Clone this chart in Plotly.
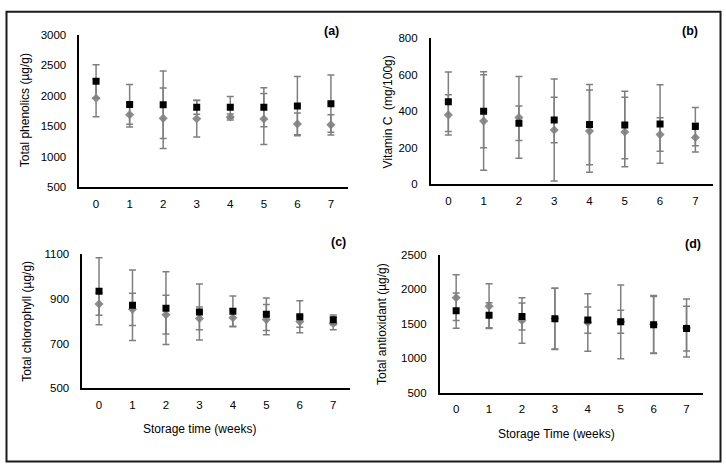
import plotly.graph_objects as go

W, H = 726, 474

weeks = ["0", "1", "2", "3", "4", "5", "6", "7"]

# (a) Total phenolics
phen_sq = [2235, 1855, 1850, 1807, 1807, 1807, 1828, 1866]
phen_sq_err = [270, 325, 554, 115, 176, 320, 486, 470]
phen_dm = [1956, 1684, 1626, 1620, 1647, 1615, 1535, 1519]
phen_dm_err = [305, 200, 496, 300, 50, 420, 180, 165]

# (b) Vitamin C
vitc_sq = [453, 401, 335, 353, 328, 326, 331, 317]
vitc_sq_err = [163, 200, 95, 125, 220, 185, 215, 105]
vitc_dm = [381, 347, 367, 298, 292, 287, 273, 257]
vitc_dm_err = [110, 270, 224, 280, 225, 190, 92, 80]

# (c) Total chlorophyll
chl_sq = [934, 871, 858, 841, 845, 831, 820, 806]
chl_sq_err = [150, 158, 163, 126, 68, 73, 72, 22]
chl_dm = [877, 853, 829, 812, 815, 807, 798, 790]
chl_dm_err = [50, 72, 87, 51, 40, 68, 25, 28]

# (d) Total antioxidant
anti_sq = [1691, 1625, 1606, 1573, 1555, 1531, 1488, 1432]
anti_sq_err = [255, 180, 195, 445, 190, 165, 410, 325]
anti_dm = [1880, 1757, 1549, 1578, 1520, 1530, 1490, 1440]
anti_dm_err = [330, 325, 330, 440, 415, 535, 420, 420]

panels = [
    dict(sq=phen_sq, sqe=phen_sq_err, dm=phen_dm, dme=phen_dm_err,
         px=(79.3, 347.7), py=(29.3, 185.7), yr=(500, 3000), dt=500,
         ytitle="Total phenolics (µg/g)", ytx=24.5, xtitle=None, label="(a)", lab=(331.7, 26)),
    dict(sq=vitc_sq, sqe=vitc_sq_err, dm=vitc_dm, dme=vitc_dm_err,
         px=(430.7, 713), py=(33.3, 183), yr=(0, 800), dt=200,
         ytitle="Vitamin C  (mg/100g)", ytx=388, xtitle=None, label="(b)", lab=(689.7, 26)),
    dict(sq=chl_sq, sqe=chl_sq_err, dm=chl_dm, dme=chl_dm_err,
         px=(82.3, 350), py=(254.7, 392), yr=(500, 1100), dt=200,
         ytitle="Total chlorophyll (µg/g)", ytx=26.7, xtitle="Storage time (weeks)",
         xt=(199, 433.7), label="(c)", lab=(338.3, 242)),
    dict(sq=anti_sq, sqe=anti_sq_err, dm=anti_dm, dme=anti_dm_err,
         px=(439.7, 703), py=(255.3, 397), yr=(500, 2500), dt=500,
         ytitle="Total antioxidant (µg/g)", ytx=382, xtitle="Storage Time (weeks)",
         xt=(556.3, 438.7), label="(d)", lab=(693, 244.3)),
]

FONT = "Liberation Sans, Arial, sans-serif"
ERR_COL = "#7f7f7f"
fig = go.Figure()
layout = dict()
annotations = []

for i, p in enumerate(panels):
    n = "" if i == 0 else str(i + 1)
    xa, ya = "x" + n, "y" + n
    for vals, errs, sym, col, size in [
        (p["dm"], p["dme"], "diamond", "#8c8c8c", 7),
        (p["sq"], p["sqe"], "square", "#000000", 7),
    ]:
        fig.add_trace(go.Scatter(
            x=weeks, y=vals, mode="markers", xaxis=xa, yaxis=ya,
            marker=dict(symbol=sym, color=col, size=size, line=dict(width=0)),
            error_y=dict(type="data", array=errs, visible=True, color=ERR_COL,
                         thickness=1.5, width=3.5),
            showlegend=False, hoverinfo="skip"))
    layout["xaxis" + n] = dict(
        domain=[p["px"][0] / W, p["px"][1] / W], anchor=ya,
        type="category", range=[-0.5, 7.5], showgrid=False, zeroline=False,
        showline=True, linecolor="#000000", linewidth=1.5, ticks="", ticklen=0,
        ticklabelstandoff=5, tickfont=dict(family=FONT, size=11.5, color="#000"))
    layout["yaxis" + n] = dict(
        domain=[1 - p["py"][1] / H, 1 - p["py"][0] / H], anchor=xa,
        range=list(p["yr"]), dtick=p["dt"], tick0=p["yr"][0], showgrid=False,
        zeroline=False, showline=True, linecolor="#000000", linewidth=1.5,
        ticks="", ticklen=0, ticklabelstandoff=9,
        tickfont=dict(family=FONT, size=11.5, color="#000"))
    annotations.append(dict(
        text=p["ytitle"], x=p["ytx"] / W, y=1 - (sum(p["py"]) / 2) / H,
        xref="paper", yref="paper", textangle=-90, showarrow=False,
        xanchor="center", yanchor="middle",
        font=dict(family=FONT, size=12, color="#000")))
    if p["xtitle"]:
        annotations.append(dict(
            text=p["xtitle"], x=p["xt"][0] / W, y=1 - p["xt"][1] / H,
            xref="paper", yref="paper", showarrow=False,
            xanchor="center", yanchor="middle",
            font=dict(family=FONT, size=12, color="#000")))
    annotations.append(dict(
        text="<b>" + p["label"] + "</b>", x=p["lab"][0] / W, y=1 - p["lab"][1] / H,
        xref="paper", yref="paper", showarrow=False,
        xanchor="center", yanchor="middle",
        font=dict(family=FONT, size=12.5, color="#000")))

fig.update_layout(
    width=W, height=H, margin=dict(l=0, r=0, t=0, b=0),
    paper_bgcolor="white", plot_bgcolor="white",
    annotations=annotations,
    shapes=[dict(type="rect", xref="paper", yref="paper",
                 x0=6.5 / W, x1=720.5 / W, y0=1 - 467.3 / H, y1=1 - 6 / H,
                 line=dict(color="#1a1a1a", width=2))],
    **layout)

fig.write_html("out.html", config={"displayModeBar": False},
               post_script="document.body.style.margin='0';document.body.style.overflow='hidden';")
